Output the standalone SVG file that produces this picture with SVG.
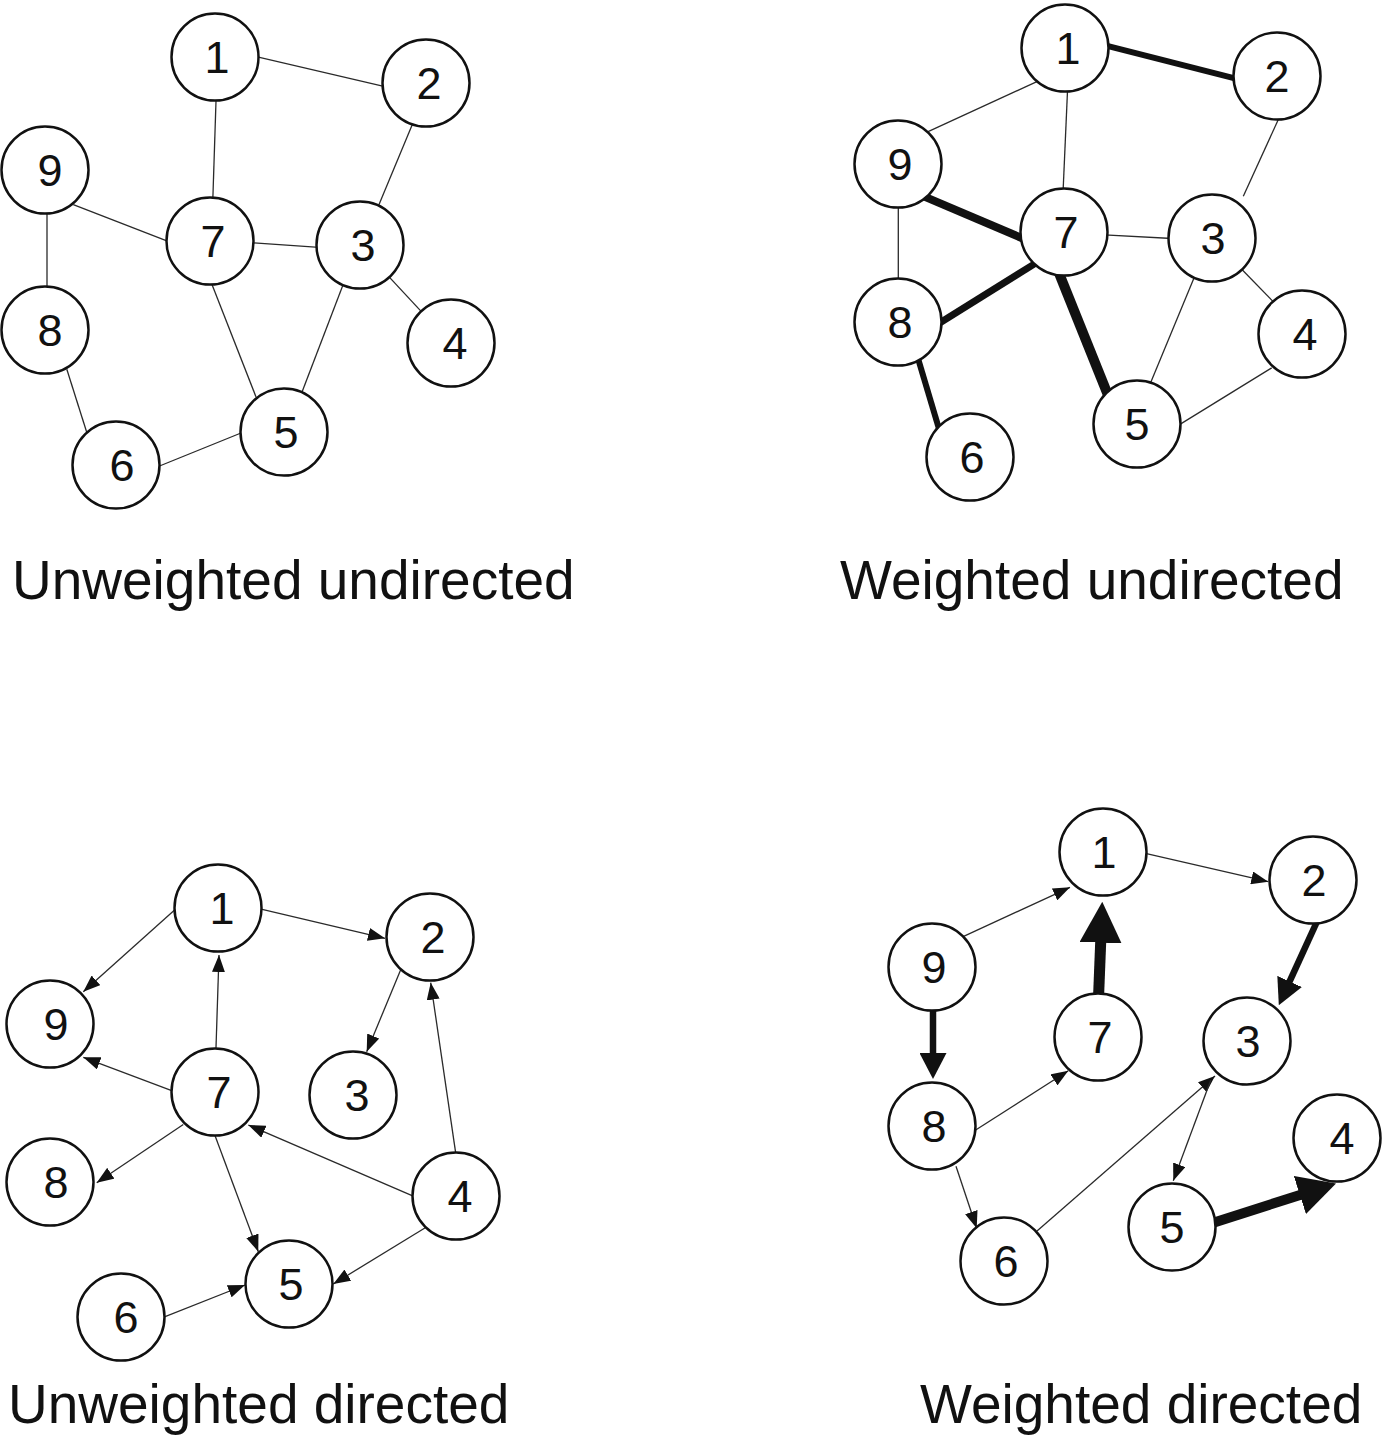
<svg xmlns="http://www.w3.org/2000/svg" width="1382" height="1435" viewBox="0 0 1382 1435">
<style>
  .bg { fill: #ffffff; }
  .node circle { fill: #ffffff; stroke: #111111; stroke-width: 2.5; }
  .node text { font-family: "Liberation Sans", Arial, sans-serif; font-size: 45px; fill: #111111; text-anchor: middle; }
  .thin { stroke: #2a2a2a; stroke-width: 1.3; fill: none; }
  .thick { stroke: #111111; fill: none; stroke-linecap: butt; }
  .arr { marker-end: url(#arrowS); }
  .caption { font-family: "Liberation Sans", Arial, sans-serif; font-size: 55px; fill: #111111; }
</style>
<defs>
  <marker id="arrowS" markerUnits="userSpaceOnUse" markerWidth="17" markerHeight="13" refX="17" refY="6.5" orient="auto">
    <path d="M0,0 L17,6.5 L0,13 Z" fill="#111111"/>
  </marker>
  <marker id="headM" markerUnits="userSpaceOnUse" markerWidth="26" markerHeight="27" refX="1" refY="13.5" orient="auto">
    <path d="M0,0 L26,13.5 L0,27 Z" fill="#111111"/>
  </marker>
  <marker id="headL" markerUnits="userSpaceOnUse" markerWidth="41" markerHeight="42" refX="1" refY="21" orient="auto">
    <path d="M0,0 L41,21 L0,42 Z" fill="#111111"/>
  </marker>
  <marker id="headL2" markerUnits="userSpaceOnUse" markerWidth="38" markerHeight="40" refX="1" refY="20" orient="auto">
    <path d="M0,0 L38,20 L0,40 Z" fill="#111111"/>
  </marker>
</defs>
<rect class="bg" x="0" y="0" width="1382" height="1435"/>

<g id="connectors">
  <!-- Panel A: unweighted undirected -->
  <g id="edges-a">
    <line class="thin" x1="254.1" y1="56.1" x2="385.9" y2="86.9"/>
    <line class="thin" x1="216.1" y1="98" x2="212.9" y2="197"/>
    <line class="thin" x1="414.5" y1="119.3" x2="378.5" y2="205.7"/>
    <line class="thin" x1="73.3" y1="204.6" x2="170.7" y2="242.4"/>
    <line class="thin" x1="47" y1="212" x2="47" y2="289"/>
    <line class="thin" x1="250" y1="242.7" x2="319" y2="247.3"/>
    <line class="thin" x1="211.5" y1="283.3" x2="257.5" y2="400.7"/>
    <line class="thin" x1="344.4" y1="281.3" x2="300.6" y2="395.7"/>
    <line class="thin" x1="389.3" y1="277.1" x2="420.7" y2="310.9"/>
    <line class="thin" x1="66.8" y1="369.2" x2="87.2" y2="433.8"/>
    <line class="thin" x1="158.3" y1="466.5" x2="244.7" y2="431.5"/>
  </g>
  <!-- Panel B: weighted undirected -->
  <g id="edges-b">
    <line class="thick" stroke-width="6" x1="1100.3" y1="44.2" x2="1244.7" y2="80.8"/>
    <line class="thin" x1="1036.9" y1="81.6" x2="928.1" y2="131.7"/>
    <line class="thin" x1="1067.5" y1="91" x2="1063.1" y2="190.7"/>
    <line class="thin" x1="1279" y1="118" x2="1243.3" y2="196.3"/>
    <line class="thick" stroke-width="8" x1="919.1" y1="194.4" x2="1029.2" y2="241.2"/>
    <line class="thin" x1="898.3" y1="206" x2="898.3" y2="280.7"/>
    <line class="thin" x1="1104.3" y1="234.8" x2="1172.3" y2="238.5"/>
    <line class="thick" stroke-width="7" x1="1038.5" y1="261.4" x2="933.2" y2="327"/>
    <line class="thick" stroke-width="10" x1="1058" y1="270.7" x2="1108.9" y2="397.3"/>
    <line class="thin" x1="1197.5" y1="269.6" x2="1150.2" y2="383.7"/>
    <line class="thin" x1="1241.2" y1="268.8" x2="1276.1" y2="304.6"/>
    <line class="thin" x1="1271.7" y1="367.9" x2="1178.3" y2="425.4"/>
    <line class="thick" stroke-width="6" x1="917.1" y1="355.4" x2="940.2" y2="432.9"/>
  </g>
  <!-- Panel C: unweighted directed -->
  <g id="edges-c">
    <line class="thin arr" x1="261.1" y1="909.1" x2="385" y2="938.3"/>
    <line class="thin arr" x1="175.7" y1="909" x2="83.3" y2="991.7"/>
    <line class="thin arr" x1="215.9" y1="1050.7" x2="219" y2="955"/>
    <line class="thin arr" x1="173.7" y1="1091.4" x2="83.3" y2="1057.3"/>
    <line class="thin arr" x1="400.8" y1="969.6" x2="366.7" y2="1051.7"/>
    <line class="thin arr" x1="455.6" y1="1152.3" x2="430.7" y2="982.7"/>
    <line class="thin arr" x1="183.3" y1="1124.5" x2="96.7" y2="1182.7"/>
    <line class="thin arr" x1="214.6" y1="1134.6" x2="258.3" y2="1251.7"/>
    <line class="thin arr" x1="414.4" y1="1196.6" x2="248.3" y2="1125"/>
    <line class="thin arr" x1="426.1" y1="1227.2" x2="333.3" y2="1284"/>
    <line class="thin arr" x1="161.3" y1="1318.2" x2="245" y2="1285"/>
  </g>
  <!-- Panel D: weighted directed -->
  <g id="edges-d">
    <line class="thin arr" x1="1145.4" y1="853.4" x2="1268.3" y2="881.7"/>
    <line class="thin arr" x1="963.1" y1="936.7" x2="1070" y2="887.3"/>
    <line class="thick" stroke-width="11" marker-end="url(#headL)" x1="1097" y1="1037" x2="1100.7" y2="941.7"/>
    <line class="thick" stroke-width="6.5" marker-end="url(#headM)" x1="1320" y1="915" x2="1289.2" y2="982.4"/>
    <line class="thick" stroke-width="6.5" marker-end="url(#headM)" x1="933" y1="967" x2="933" y2="1054"/>
    <line class="thin arr" x1="974.9" y1="1130.5" x2="1068.3" y2="1070.7"/>
    <line class="thin arr" x1="956" y1="1166.2" x2="976.7" y2="1228.3"/>
    <line class="thin arr" x1="1037" y1="1230.9" x2="1215" y2="1076"/>
    <line class="thin arr" x1="1210.7" y1="1080.3" x2="1173.3" y2="1180.7"/>
    <line class="thick" stroke-width="10" marker-end="url(#headL2)" x1="1175" y1="1235" x2="1300.8" y2="1194.7"/>
  </g>
</g>

<!-- Panel A nodes -->
<g id="a1" class="node"><circle cx="215" cy="57" r="43.5"/><text x="217" y="73">1</text></g>
<g id="a2" class="node"><circle cx="426" cy="83" r="43.5"/><text x="429" y="99">2</text></g>
<g id="a3" class="node"><circle cx="360" cy="245" r="43.5"/><text x="363" y="261">3</text></g>
<g id="a4" class="node"><circle cx="451" cy="343" r="43.5"/><text x="455" y="359">4</text></g>
<g id="a5" class="node"><circle cx="284" cy="432" r="43.5"/><text x="286" y="448">5</text></g>
<g id="a6" class="node"><circle cx="116" cy="465" r="43.5"/><text x="122" y="481">6</text></g>
<g id="a7" class="node"><circle cx="210" cy="241" r="43.5"/><text x="213" y="257">7</text></g>
<g id="a8" class="node"><circle cx="45" cy="330" r="43.5"/><text x="50" y="346">8</text></g>
<g id="a9" class="node"><circle cx="45" cy="170" r="43.5"/><text x="50" y="186">9</text></g>

<!-- Panel B nodes -->
<g id="b1" class="node"><circle cx="1065" cy="48" r="43.5"/><text x="1068" y="64">1</text></g>
<g id="b2" class="node"><circle cx="1277" cy="76" r="43.5"/><text x="1277" y="92">2</text></g>
<g id="b3" class="node"><circle cx="1212" cy="238" r="43.5"/><text x="1213" y="254">3</text></g>
<g id="b4" class="node"><circle cx="1302" cy="334" r="43.5"/><text x="1305" y="350">4</text></g>
<g id="b5" class="node"><circle cx="1137" cy="424" r="43.5"/><text x="1137" y="440">5</text></g>
<g id="b6" class="node"><circle cx="970" cy="457" r="43.5"/><text x="972" y="473">6</text></g>
<g id="b7" class="node"><circle cx="1064" cy="232" r="43.5"/><text x="1066" y="248">7</text></g>
<g id="b8" class="node"><circle cx="898" cy="322" r="43.5"/><text x="900" y="338">8</text></g>
<g id="b9" class="node"><circle cx="898" cy="164" r="43.5"/><text x="900" y="180">9</text></g>

<!-- Panel C nodes -->
<g id="c1" class="node"><circle cx="218" cy="908" r="43.5"/><text x="222" y="924">1</text></g>
<g id="c2" class="node"><circle cx="430" cy="937" r="43.5"/><text x="433" y="953">2</text></g>
<g id="c3" class="node"><circle cx="353" cy="1095" r="43.5"/><text x="357" y="1111">3</text></g>
<g id="c4" class="node"><circle cx="456" cy="1196" r="43.5"/><text x="460" y="1212">4</text></g>
<g id="c5" class="node"><circle cx="289" cy="1284" r="43.5"/><text x="291" y="1300">5</text></g>
<g id="c6" class="node"><circle cx="121" cy="1317" r="43.5"/><text x="126" y="1333">6</text></g>
<g id="c7" class="node"><circle cx="215" cy="1092" r="43.5"/><text x="219" y="1108">7</text></g>
<g id="c8" class="node"><circle cx="50" cy="1182" r="43.5"/><text x="56" y="1198">8</text></g>
<g id="c9" class="node"><circle cx="50" cy="1024" r="43.5"/><text x="56" y="1040">9</text></g>

<!-- Panel D nodes -->
<g id="d1" class="node"><circle cx="1103" cy="852" r="43.5"/><text x="1104" y="868">1</text></g>
<g id="d2" class="node"><circle cx="1313" cy="880" r="43.5"/><text x="1314" y="896">2</text></g>
<g id="d3" class="node"><circle cx="1247" cy="1041" r="43.5"/><text x="1248" y="1057">3</text></g>
<g id="d4" class="node"><circle cx="1337" cy="1138" r="43.5"/><text x="1342" y="1154">4</text></g>
<g id="d5" class="node"><circle cx="1172" cy="1227" r="43.5"/><text x="1172" y="1243">5</text></g>
<g id="d6" class="node"><circle cx="1004" cy="1261" r="43.5"/><text x="1006" y="1277">6</text></g>
<g id="d7" class="node"><circle cx="1098" cy="1037" r="43.5"/><text x="1100" y="1053">7</text></g>
<g id="d8" class="node"><circle cx="932" cy="1126" r="43.5"/><text x="934" y="1142">8</text></g>
<g id="d9" class="node"><circle cx="932" cy="967" r="43.5"/><text x="934" y="983">9</text></g>

<!-- Captions -->
<text class="caption" x="12" y="599">Unweighted undirected</text>
<text class="caption" x="840" y="599">Weighted undirected</text>
<text class="caption" x="8" y="1423">Unweighted directed</text>
<text class="caption" x="920" y="1423">Weighted directed</text>
</svg>
